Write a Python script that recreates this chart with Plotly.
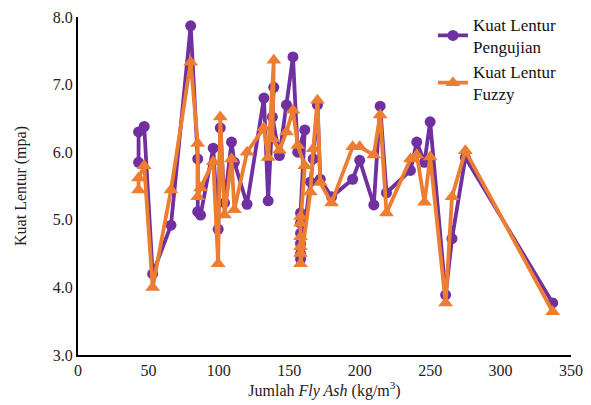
import plotly.graph_objects as go

# Fly ash content per sample (kg/m3), in test order
fly_ash = [43, 43, 47, 53, 66, 80, 85, 85, 87, 96, 99.5, 101, 104, 109, 111, 120,
           132, 135, 139, 138, 143, 148, 152.6, 156, 161,
           158, 158, 158, 158, 158, 158,
           165, 167, 170, 172, 180, 195, 200, 210, 214.5, 219,
           236, 240.5, 246, 250, 261, 265.5, 275, 337]

# Measured flexural strength (MPa)
kuat_uji = [5.85, 6.30, 6.38, 4.20, 4.92, 7.87, 5.90, 5.12, 5.07, 6.06, 4.86, 6.36, 5.25, 6.15, 5.85, 5.23,
            6.80, 5.28, 6.96, 6.52, 5.95, 6.70, 7.41, 6.00, 6.33,
            5.10, 4.95, 4.80, 4.65, 4.50, 4.42,
            5.56, 5.90, 6.70, 5.60, 5.34, 5.60, 5.88, 5.22, 6.68, 5.40,
            5.73, 6.15, 5.85, 6.45, 3.89, 4.72, 5.92, 3.77]

# Fuzzy-predicted flexural strength (MPa)
kuat_fuzzy = [5.44, 5.62, 5.80, 4.00, 5.44, 7.33, 6.13, 5.34, 5.47, 5.86, 4.35, 6.52, 5.07, 5.90, 5.15, 6.00,
              6.36, 5.92, 7.36, 6.20, 6.03, 6.30, 6.62, 6.10, 5.80,
              5.05, 4.95, 4.75, 4.60, 4.50, 4.35,
              5.41, 6.05, 6.77, 5.55, 5.25, 6.08, 6.08, 5.96, 6.55, 5.10,
              5.90, 5.96, 5.26, 5.93, 3.77, 5.34, 6.02, 3.64]

y_ticks = [3.0, 4.0, 5.0, 6.0, 7.0, 8.0]
x_ticks = [0, 50, 100, 150, 200, 250, 300, 350]

PURPLE = "#7030A0"
ORANGE = "#ED7D31"
FONT = "'Liberation Serif', 'Times New Roman', serif"

fig = go.Figure()
fig.add_trace(go.Scatter(
    x=fly_ash, y=kuat_uji, mode="lines+markers",
    name="Kuat Lentur<br>Pengujian",
    line=dict(color=PURPLE, width=3.8),
    marker=dict(symbol="circle", size=11, color=PURPLE),
))
fig.add_trace(go.Scatter(
    x=fly_ash, y=kuat_fuzzy, mode="lines+markers",
    name="Kuat Lentur<br>Fuzzy",
    line=dict(color=ORANGE, width=3.8),
    marker=dict(symbol="triangle-up", size=13, color=ORANGE),
))

fig.update_layout(
    width=591, height=405,
    margin=dict(l=78, r=20, t=17, b=50, autoexpand=False),
    paper_bgcolor="white", plot_bgcolor="white",
    font=dict(family=FONT, size=16, color="#222"),
    showlegend=True,
    legend=dict(x=0.72, y=1.03, xanchor="left", yanchor="top",
                bgcolor="rgba(0,0,0,0)", font=dict(size=17, family=FONT, color="#111"),
                tracegroupgap=1),
    xaxis=dict(range=[0, 350], tickvals=x_ticks, showgrid=False, zeroline=False,
               showline=True, linecolor="black", linewidth=2, ticks="",
               tickfont=dict(size=16, family=FONT),
               title=dict(text="Jumlah <i>Fly Ash</i> (kg/m<sup>3</sup>)",
                          font=dict(size=16, family=FONT), standoff=5)),
    yaxis=dict(range=[3, 8], tickvals=y_ticks, tickformat=".1f", showgrid=False,
               zeroline=False, showline=True, linecolor="black", linewidth=2,
               ticks="", tickfont=dict(size=16, family=FONT),
               title=dict(text="Kuat Lentur (mpa)", font=dict(size=16, family=FONT),
                          standoff=22)),
)

fig.write_html("out.html")
